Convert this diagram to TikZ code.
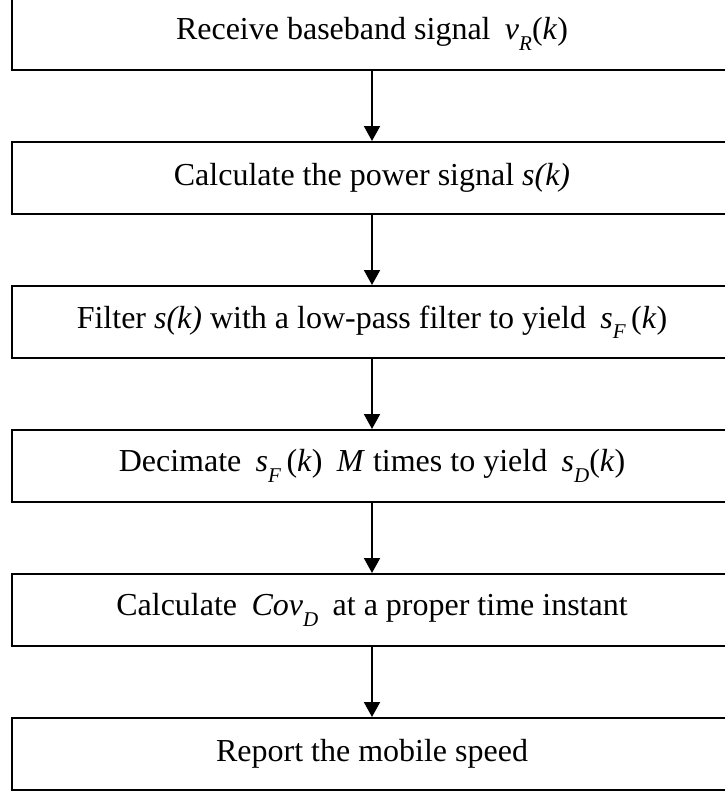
\documentclass[tikz,border=0pt]{standalone}
\usepackage{fontspec}
\setmainfont{Liberation Serif}
\usetikzlibrary{arrows.meta}
% italic subscript in the Word-equation look
\newcommand{\sbs}[1]{\raisebox{-0.32em}{\fontsize{21}{21}\selectfont\textit{#1}}}
\newcommand{\gap}{\hspace{0.45em}}

\begin{document}
\begin{tikzpicture}[x=1pt, y=-1pt]
    \tikzstyle{pbox} = [draw=black, line width=2pt, rectangle, minimum width=720pt, minimum height=72pt, inner sep=0pt, align=center, font=\fontsize{32}{38}\selectfont]
    \tikzstyle{parrow} = [line width=2pt, -{Triangle[length=15pt, width=16pt]}]
    \clip (0,0) rectangle (725,792);

    % steps
    \node[pbox] (recv) at (372,34) {Receive baseband signal\gap\textit{v}\sbs{R}(\textit{k})};
    \node[pbox] (power) at (372,178) {Calculate the power signal \textit{s(k)}};
    \node[pbox] (filt) at (372,322) {Filter \textit{s(k)} with a low-pass filter to yield\gap\textit{s}\sbs{F}\,(\textit{k})};
    \node[pbox] (deci) at (372,466) {Decimate\gap\textit{s}\sbs{F}\,(\textit{k})\gap\textit{M} times to yield\gap\textit{s}\sbs{D}(\textit{k})};
    \node[pbox] (cov) at (372,610) {Calculate\gap\textit{Cov}\sbs{D}\gap at a proper time instant};
    \node[pbox] (report) at (372,754) {Report the mobile speed};

    \draw[parrow] (recv) -- (power);
    \draw[parrow] (power) -- (filt);
    \draw[parrow] (filt) -- (deci);
    \draw[parrow] (deci) -- (cov);
    \draw[parrow] (cov) -- (report);
\end{tikzpicture}
\end{document}
